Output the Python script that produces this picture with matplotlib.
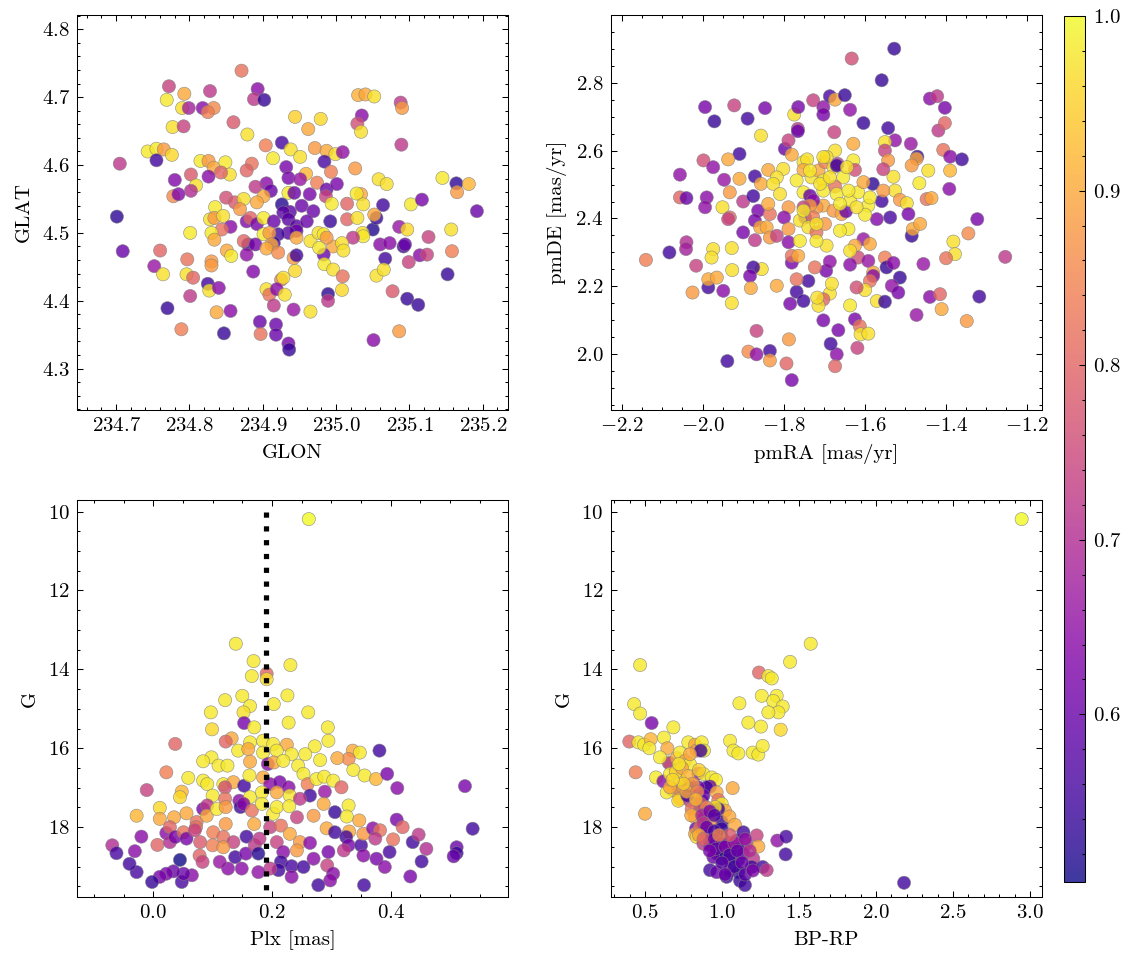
import matplotlib
matplotlib.use("Agg")
import matplotlib.pyplot as plt
from matplotlib.colors import Normalize
from matplotlib.ticker import MultipleLocator

# sky positions (top left)
glon = [234.871, 234.772, 234.793, 234.769, 234.828, 234.893, 234.888, 234.902, 234.790, 234.799,
        234.818, 234.833, 234.825, 234.777, 234.792, 234.860, 234.879, 234.944, 234.979, 234.962,
        235.030, 235.040, 235.052, 235.088, 235.090, 235.035, 235.029, 235.034, 235.089, 234.705,
        234.743, 234.755, 234.765, 234.776, 234.755, 234.815, 234.826, 234.833, 234.849, 234.855,
        234.843, 234.826, 234.802, 234.780, 234.809, 234.802, 234.778, 234.785, 234.885, 234.878,
        234.904, 234.926, 234.914, 234.938, 234.951, 234.932, 234.971, 234.987, 234.999, 235.009,
        234.984, 234.993, 235.026, 234.959, 234.935, 234.951, 234.974, 234.905, 234.890, 234.911,
        234.935, 234.943, 234.964, 234.987, 235.001, 234.986, 235.058, 235.069, 235.034, 235.028,
        234.850, 234.862, 234.874, 234.901, 234.892, 234.835, 234.869, 234.926, 234.937, 234.953,
        234.969, 234.928, 234.994, 235.015, 235.037, 235.064, 235.102, 235.117, 235.145, 235.164,
        235.181, 235.165, 235.192, 234.701, 234.709, 234.828, 234.834, 234.846, 234.856, 234.844,
        234.830, 234.834, 234.801, 234.878, 234.883, 234.892, 234.901, 234.915, 234.935, 234.946,
        234.960, 234.946, 234.935, 234.921, 234.915, 234.901, 234.909, 234.912, 234.946, 234.965,
        234.976, 234.983, 234.992, 235.015, 235.029, 235.050, 235.055, 235.052, 235.036, 235.037,
        235.023, 234.996, 235.008, 235.010, 234.987, 235.086, 235.097, 235.126, 235.157, 235.060,
        235.073, 235.092, 235.094, 235.114, 235.124, 235.099, 235.067, 235.158, 235.152, 234.880,
        234.878, 234.874, 234.890, 234.905, 234.921, 234.942, 234.946, 234.983, 234.984, 234.996,
        234.977, 234.851, 234.857, 234.760, 234.797, 234.830, 234.830, 234.752, 234.764, 234.796,
        234.805, 234.887, 234.944, 234.925, 234.928, 235.009, 235.055, 235.065, 234.825, 234.827,
        234.840, 234.801, 234.905, 234.909, 234.919, 234.930, 234.989, 234.989, 235.008, 235.077,
        235.097, 235.112, 234.770, 234.837, 234.856, 234.915, 234.942, 234.965, 234.789, 234.847,
        234.896, 234.918, 234.918, 234.897, 234.935, 234.936, 235.051, 235.086]
glat = [4.739, 4.716, 4.705, 4.696, 4.709, 4.712, 4.697, 4.696, 4.684, 4.684,
        4.684, 4.684, 4.678, 4.656, 4.657, 4.663, 4.645, 4.671, 4.668, 4.653,
        4.703, 4.704, 4.701, 4.692, 4.684, 4.673, 4.661, 4.649, 4.630, 4.602,
        4.620, 4.624, 4.623, 4.615, 4.607, 4.606, 4.606, 4.596, 4.604, 4.586,
        4.589, 4.583, 4.586, 4.578, 4.570, 4.562, 4.554, 4.557, 4.602, 4.592,
        4.629, 4.633, 4.610, 4.623, 4.612, 4.597, 4.625, 4.621, 4.616, 4.619,
        4.605, 4.590, 4.595, 4.587, 4.581, 4.579, 4.574, 4.573, 4.568, 4.562,
        4.559, 4.559, 4.557, 4.564, 4.572, 4.554, 4.579, 4.572, 4.557, 4.558,
        4.552, 4.545, 4.550, 4.554, 4.545, 4.538, 4.535, 4.542, 4.531, 4.540,
        4.532, 4.530, 4.543, 4.543, 4.542, 4.541, 4.542, 4.549, 4.581, 4.573,
        4.572, 4.560, 4.532, 4.524, 4.473, 4.520, 4.522, 4.525, 4.509, 4.505,
        4.500, 4.490, 4.500, 4.517, 4.522, 4.513, 4.522, 4.517, 4.520, 4.510,
        4.517, 4.503, 4.500, 4.498, 4.485, 4.498, 4.500, 4.483, 4.493, 4.488,
        4.500, 4.498, 4.517, 4.520, 4.522, 4.505, 4.522, 4.527, 4.500, 4.495,
        4.493, 4.480, 4.485, 4.474, 4.493, 4.509, 4.505, 4.494, 4.505, 4.483,
        4.485, 4.480, 4.483, 4.467, 4.468, 4.457, 4.462, 4.473, 4.439, 4.483,
        4.468, 4.488, 4.483, 4.477, 4.471, 4.463, 4.467, 4.468, 4.454, 4.446,
        4.478, 4.474, 4.466, 4.474, 4.461, 4.458, 4.452, 4.451, 4.439, 4.439,
        4.434, 4.443, 4.444, 4.431, 4.434, 4.436, 4.437, 4.446, 4.425, 4.415,
        4.419, 4.407, 4.417, 4.409, 4.417, 4.409, 4.410, 4.400, 4.416, 4.414,
        4.403, 4.394, 4.389, 4.383, 4.385, 4.393, 4.387, 4.384, 4.358, 4.352,
        4.369, 4.365, 4.350, 4.351, 4.337, 4.328, 4.342, 4.355]
prob_sky = [.82, .74, .90, .98, .72, .64, .72, .54, .97, .68,
            .64, .86, .84, .97, .74, .78, .97, .95, .96, .90,
            .91, .90, .97, .72, .88, .64, .76, .97, .72, .72,
            .98, .98, .88, .96, .55, .98, .88, .90, .98, .97,
            .80, .64, .78, .63, .97, .70, .86, .63, .82, .80,
            .84, .56, .98, .97, .97, .62, .88, .90, .97, .65,
            .56, .84, .88, .92, .62, .66, .84, .64, .72, .60,
            .98, .60, .62, .60, .62, .74, .97, .97, .90, .98,
            .76, .78, .97, .90, .90, .98, .88, .52, .58, .60,
            .60, .58, .98, .80, .97, .55, .98, .62, .98, .53,
            .92, .88, .60, .53, .60, .97, .88, .97, .64, .82,
            .98, .90, .98, .63, .80, .62, .98, .60, .58, .58,
            .60, .60, .58, .55, .55, .98, .88, .90, .90, .97,
            .97, .98, .54, .80, .97, .52, .54, .90, .97, .98,
            .72, .90, .97, .97, .88, .66, .96, .74, .97, .64,
            .64, .55, .60, .64, .74, .74, .55, .84, .54, .54,
            .65, .80, .62, .90, .86, .88, .55, .60, .98, .97,
            .98, .90, .98, .80, .82, .88, .88, .66, .97, .97,
            .80, .63, .96, .84, .97, .82, .97, .97, .55, .97,
            .64, .72, .97, .82, .64, .97, .53, .72, .96, .78,
            .54, .54, .54, .90, .64, .72, .66, .97, .84, .54,
            .60, .60, .60, .82, .62, .54, .64, .88]

# proper motions (top right)
pmra = [-1.527, -1.632, -1.558, -1.994, -1.971, -1.922, -1.889, -1.846, -1.856, -1.774,
        -1.764, -1.765, -1.765, -1.727, -1.702, -1.702, -1.686, -1.673, -1.649, -1.636,
        -1.603, -1.675, -1.542, -1.525, -1.550, -1.439, -1.421, -1.402, -1.418, -1.402,
        -1.486, -1.470, -1.406, -1.389, -1.360, -1.472, -1.484, -1.443, -1.389, -1.391,
        -1.465, -1.550, -1.542, -1.529, -1.554, -1.525, -1.580, -1.558, -1.554, -1.513,
        -1.496, -1.447, -1.435, -1.492, -1.537, -1.570, -1.484, -1.481, -1.463, -1.322,
        -1.344, -1.381, -1.377, -1.253, -1.399, -1.455, -2.140, -2.082, -2.040, -2.041,
        -2.016, -2.056, -1.998, -1.974, -1.909, -1.947, -1.937, -1.909, -1.933, -1.951,
        -2.056, -2.040, -1.990, -1.994, -1.900, -1.871, -1.856, -1.838, -1.875, -1.863,
        -1.933, -1.937, -1.900, -1.871, -1.871, -1.858, -1.842, -1.834, -1.817, -1.834,
        -1.838, -1.797, -1.788, -1.780, -1.801, -1.817, -1.826, -1.809, -1.788, -1.799,
        -1.788, -1.788, -1.751, -1.742, -1.751, -1.768, -1.751, -1.735, -1.731, -1.714,
        -1.698, -1.702, -1.702, -1.702, -1.719, -1.727, -1.735, -1.747, -1.727, -1.751,
        -1.760, -1.739, -1.719, -1.698, -1.677, -1.667, -1.669, -1.673, -1.653, -1.673,
        -1.669, -1.677, -1.657, -1.646, -1.636, -1.628, -1.624, -1.628, -1.616, -1.603,
        -1.591, -1.599, -1.640, -1.661, -1.694, -1.760, -1.719, -1.603, -1.587, -1.624,
        -1.616, -1.591, -1.550, -1.546, -1.529, -1.513, -1.533, -1.517, -1.579, -1.579,
        -1.587, -1.599, -1.620, -1.570, -1.550, -1.472, -1.439, -1.414, -1.410, -1.348,
        -1.317, -1.636, -1.636, -1.624, -1.612, -1.610, -1.591, -1.618, -1.669, -1.684,
        -1.665, -1.702, -1.673, -1.636, -1.686, -1.681, -1.702, -1.714, -1.717, -1.695,
        -1.723, -1.686, -1.739, -1.768, -1.751, -1.784, -1.768, -1.780, -1.780, -1.764,
        -1.854, -1.875, -1.883, -1.927, -1.881, -1.928, -1.949, -1.986, -1.986, -1.965,
        -2.025, -1.974, -1.978, -1.928, -1.817, -1.867, -1.939, -1.887, -1.867, -1.834,
        -1.834, -1.793, -1.787, -1.780, -1.735, -1.710, -1.686, -1.694, -1.751, -1.719,
        -1.644, -1.620, -1.587, -1.640, -1.661, -1.702]
pmde = [2.900, 2.871, 2.807, 2.728, 2.686, 2.733, 2.694, 2.725, 2.644, 2.706,
        2.728, 2.664, 2.657, 2.748, 2.728, 2.706, 2.760, 2.750, 2.763, 2.720,
        2.681, 2.654, 2.666, 2.630, 2.625, 2.753, 2.760, 2.726, 2.659, 2.681,
        2.620, 2.582, 2.602, 2.582, 2.574, 2.576, 2.556, 2.541, 2.541, 2.487,
        2.504, 2.600, 2.571, 2.523, 2.545, 2.482, 2.502, 2.451, 2.482, 2.455,
        2.445, 2.457, 2.460, 2.413, 2.403, 2.398, 2.349, 2.369, 2.384, 2.398,
        2.356, 2.332, 2.295, 2.287, 2.283, 2.266, 2.278, 2.300, 2.330, 2.310,
        2.261, 2.529, 2.571, 2.551, 2.590, 2.514, 2.574, 2.517, 2.477, 2.433,
        2.462, 2.460, 2.462, 2.433, 2.450, 2.524, 2.502, 2.543, 2.466, 2.423,
        2.403, 2.398, 2.359, 2.394, 2.336, 2.374, 2.374, 2.344, 2.349, 2.413,
        2.443, 2.605, 2.630, 2.588, 2.546, 2.521, 2.502, 2.472, 2.433, 2.403,
        2.369, 2.330, 2.566, 2.574, 2.543, 2.512, 2.477, 2.467, 2.521, 2.541,
        2.566, 2.512, 2.482, 2.438, 2.433, 2.453, 2.438, 2.403, 2.403, 2.433,
        2.394, 2.374, 2.359, 2.384, 2.551, 2.561, 2.556, 2.600, 2.521, 2.494,
        2.472, 2.423, 2.413, 2.421, 2.453, 2.571, 2.543, 2.620, 2.477, 2.507,
        2.438, 2.411, 2.369, 2.364, 2.320, 2.334, 2.334, 2.339, 2.325, 2.320,
        2.285, 2.275, 2.285, 2.256, 2.269, 2.226, 2.202, 2.182, 2.241, 2.231,
        2.216, 2.189, 2.197, 2.157, 2.155, 2.116, 2.169, 2.177, 2.133, 2.098,
        2.170, 2.264, 2.305, 2.103, 2.083, 2.059, 2.061, 2.019, 2.000, 2.031,
        2.071, 2.100, 1.965, 2.144, 2.179, 2.208, 2.162, 2.143, 2.167, 2.246,
        2.256, 2.273, 2.216, 2.184, 2.157, 2.149, 2.221, 2.270, 2.290, 2.290,
        2.251, 2.256, 2.231, 2.248, 2.195, 2.151, 2.187, 2.197, 2.221, 2.226,
        2.182, 2.310, 2.285, 2.313, 2.202, 2.069, 1.980, 2.008, 2.000, 2.010,
        1.982, 1.973, 2.044, 1.924, 2.541, 2.502, 2.521, 2.581, 2.423, 2.384,
        2.551, 2.433, 2.462, 2.482, 2.443, 2.581]
prob_pm = [.54, .76, .54, .62, .54, .74, .55, .62, .97, .97,
           .62, .72, .60, .74, .65, .62, .56, .90, .54, .65,
           .54, .74, .55, .65, .97, .64, .72, .62, .72, .80,
           .66, .54, .82, .64, .55, .90, .88, .97, .92, .64,
           .98, .74, .88, .97, .74, .97, .53, .55, .88, .88,
           .97, .82, .90, .62, .56, .63, .54, .90, .90, .62,
           .86, .97, .97, .72, .82, .66, .84, .55, .70, .68,
           .74, .65, .76, .65, .55, .66, .90, .90, .88, .97,
           .80, .60, .64, .65, .72, .55, .90, .90, .55, .62,
           .80, .74, .62, .62, .72, .90, .90, .88, .74, .82,
           .90, .60, .74, .90, .97, .97, .97, .97, .88, .64,
           .88, .64, .97, .97, .90, .98, .98, .60, .97, .90,
           .84, .98, .98, .90, .88, .64, .88, .60, .84, .74,
           .97, .97, .82, .88, .97, .72, .55, .97, .98, .82,
           .98, .88, .90, .60, .98, .98, .76, .90, .98, .90,
           .98, .98, .98, .98, .97, .98, .98, .66, .90, .90,
           .76, .66, .84, .54, .64, .54, .65, .62, .90, .64,
           .82, .97, .76, .97, .54, .66, .64, .80, .90, .88,
           .55, .64, .97, .62, .82, .97, .97, .74, .64, .55,
           .62, .62, .80, .98, .97, .97, .80, .97, .97, .62,
           .82, .65, .55, .55, .55, .62, .82, .62, .82, .90,
           .97, .55, .62, .97, .90, .97, .64, .55, .90, .90,
           .88, .97, .97, .97, .90, .74, .55, .86, .65, .55,
           .88, .80, .88, .62, .98, .97, .97, .97, .98, .97,
           .97, .97, .98, .98, .98, .97]

# parallax vs magnitude (bottom left)
plx = [0.262, 0.139, 0.169, 0.166, 0.191, 0.231, 0.191, 0.121, 0.150, 0.163,
       0.152, 0.203, 0.226, 0.097, 0.261, 0.228, 0.153, 0.170, 0.099, 0.294,
       0.295, 0.132, 0.122, 0.037, 0.163, 0.185, 0.202, 0.225, 0.272, 0.143,
       0.160, 0.185, 0.208, 0.233, 0.256, 0.336, 0.348, 0.381, 0.329, 0.310,
       0.281, 0.098, 0.084, 0.110, 0.125, 0.163, 0.193, 0.203, 0.219, 0.244,
       0.022, 0.059, 0.084, 0.091, 0.118, 0.135, 0.153, 0.162, 0.185, 0.197,
       0.213, 0.228, 0.253, 0.260, 0.275, 0.288, 0.303, 0.337, 0.356, 0.375,
       0.394, 0.411, 0.525, -0.011, 0.048, 0.045, 0.100, 0.121, 0.145, 0.121,
       0.163, 0.183, 0.208, 0.230, 0.264, 0.247, 0.289, 0.317, 0.011, -0.028,
       0.011, 0.035, 0.056, 0.073, 0.084, 0.091, 0.090, 0.107, 0.122, 0.147,
       0.152, 0.166, 0.183, 0.202, 0.208, 0.229, 0.242, 0.270, 0.287, 0.306,
       0.329, 0.326, 0.347, 0.410, 0.538, -0.020, -0.069, -0.062, -0.031, 0.007,
       0.022, 0.028, 0.028, 0.037, 0.051, 0.056, 0.072, 0.070, 0.079, 0.078,
       0.083, 0.101, 0.100, 0.118, 0.122, 0.135, 0.138, 0.118, 0.157, 0.156,
       0.170, 0.171, 0.177, 0.179, 0.197, 0.215, 0.208, 0.219, 0.215, 0.230,
       0.247, 0.242, 0.264, 0.270, 0.292, 0.306, 0.330, 0.325, 0.329, 0.321,
       0.350, 0.354, 0.370, 0.382, 0.374, 0.354, 0.376, 0.398, 0.404, 0.420,
       0.437, 0.447, 0.460, 0.452, 0.511, 0.511, 0.506, 0.295, 0.293, 0.303,
       0.298, 0.278, 0.233, 0.253, 0.233, 0.211, 0.197, 0.177, 0.149, 0.126,
       0.112, 0.065, 0.048, 0.051, 0.045, 0.034, 0.022, 0.011, -0.002, -0.028,
       -0.040, 0.355, 0.390, 0.433]
gmag_plx = [10.19, 13.35, 13.79, 14.17, 14.11, 13.89, 14.25, 14.78, 14.67, 14.93,
            15.09, 14.88, 14.66, 15.09, 15.09, 15.35, 15.36, 15.47, 15.52, 15.47,
            15.81, 15.75, 15.83, 15.89, 15.85, 15.81, 15.89, 15.91, 15.95, 16.06,
            16.02, 16.11, 16.06, 16.15, 16.15, 16.06, 16.11, 16.06, 16.27, 16.25,
            16.30, 16.23, 16.33, 16.44, 16.44, 16.34, 16.40, 16.36, 16.32, 16.44,
            16.61, 16.75, 16.82, 16.91, 16.91, 16.86, 16.95, 16.69, 16.74, 16.91,
            16.86, 16.99, 16.65, 16.91, 16.78, 16.72, 16.82, 16.55, 16.69, 16.78,
            16.65, 17.01, 16.96, 17.06, 17.10, 17.24, 17.20, 16.99, 17.33, 17.28,
            17.24, 17.12, 17.12, 17.20, 17.20, 17.28, 17.10, 16.99, 17.51, 17.71,
            17.79, 17.75, 17.65, 17.87, 17.54, 17.45, 17.71, 17.54, 17.49, 17.49,
            17.41, 17.58, 17.41, 17.66, 17.49, 17.47, 17.75, 17.71, 17.41, 17.62,
            17.45, 17.73, 17.83, 17.81, 18.04, 18.24, 18.46, 18.66, 18.61, 18.45,
            18.15, 18.00, 18.38, 18.25, 18.13, 18.29, 18.00, 18.08, 18.38, 18.72,
            18.88, 18.13, 18.46, 18.25, 17.92, 18.38, 18.76, 18.51, 18.24, 18.67,
            17.92, 18.46, 18.67, 18.29, 18.00, 17.96, 18.38, 18.63, 18.88, 18.17,
            18.38, 18.59, 18.40, 18.80, 18.03, 18.13, 18.11, 18.25, 18.46, 18.59,
            18.46, 18.17, 18.03, 18.08, 18.29, 18.72, 18.80, 18.63, 18.31, 18.00,
            18.38, 18.19, 18.55, 18.87, 18.51, 18.66, 18.74, 18.63, 18.97, 19.18,
            19.35, 19.47, 18.99, 19.01, 19.26, 19.09, 19.05, 19.14, 19.05, 19.05,
            18.88, 19.22, 19.39, 19.18, 18.83, 19.12, 19.18, 19.26, 19.39, 19.14,
            18.93, 19.47, 19.01, 19.25]
prob_plx = [1.0, .98, .98, .98, .80, .98, .97, .98, .98, .98,
            .97, .98, .98, .98, .98, .98, .62, .98, .96, .98,
            .98, .90, .80, .80, .98, .98, .98, .90, .98, .98,
            .90, .98, .98, .98, .98, .90, .98, .55, .86, .90,
            .98, .98, .98, .98, .98, .90, .64, .90, .98, .98,
            .84, .98, .98, .98, .98, .90, .55, .98, .90, .64,
            .62, .64, .98, .84, .98, .98, .98, .98, .98, .92,
            .62, .64, .62, .74, .92, .96, .98, .76, .64, .82,
            .98, .98, .90, .98, .55, .72, .66, .80, .96, .92,
            .90, .90, .90, .82, .62, .72, .90, .98, .88, .55,
            .64, .82, .98, .98, .98, .98, .74, .88, .90, .54,
            .98, .98, .90, .62, .55, .64, .70, .56, .64, .80,
            .64, .80, .70, .62, .82, .62, .82, .74, .78, .80,
            .74, .84, .84, .82, .88, .74, .55, .88, .55, .62,
            .90, .72, .52, .72, .74, .82, .74, .64, .55, .90,
            .88, .88, .64, .64, .90, .55, .90, .55, .62, .72,
            .56, .88, .64, .82, .72, .64, .62, .56, .82, .80,
            .55, .72, .70, .55, .60, .55, .60, .62, .74, .64,
            .64, .55, .56, .55, .64, .55, .72, .65, .64, .64,
            .66, .64, .56, .60, .504, .60, .62, .62, .54, .56,
            .55, .55, .64, .62]
plx_cut = 0.19
gline = [10.0, 20.0]

# colour-magnitude diagram (bottom right)
bprp = [2.946, 1.576, 1.442, 0.468, 1.240, 1.301, 1.323, 1.258, 1.355, 1.333,
        1.394, 1.366, 1.301, 1.113, 1.253, 1.381, 1.171, 1.052, 1.074, 1.106,
        1.199, 1.236, 1.264, 0.429, 0.468, 0.543, 0.398, 0.457, 0.494, 0.537,
        0.528, 0.623, 0.684, 0.439, 0.571, 0.619, 0.500, 0.645, 0.652, 0.658,
        0.706, 0.727, 0.781, 0.825, 0.835, 0.868, 0.883, 0.861, 0.760, 0.792,
        0.792, 0.846, 0.879, 0.933, 0.961, 0.922, 0.900, 0.846, 1.069, 0.716,
        0.684, 0.641, 0.662, 0.803, 0.749, 0.727, 0.716, 0.792, 0.868, 0.879,
        0.965, 0.976, 0.998, 1.019, 0.976, 0.944, 0.857, 0.803, 0.825, 0.879,
        0.998, 1.048, 1.084, 0.922, 0.998, 0.998, 0.831, 0.825, 0.835, 0.857,
        0.900, 0.922, 0.879, 0.922, 1.030, 1.095, 1.139, 1.160, 1.225, 1.236,
        1.052, 1.106, 0.965, 0.998, 0.944, 1.041, 1.106, 1.139, 1.203, 1.193,
        1.264, 1.290, 1.106, 1.052, 1.030, 0.922, 0.965, 1.117, 1.149, 1.359,
        1.416, 1.413, 2.182, 0.781, 0.775, 0.955, 0.727, 0.662, 0.597,
        0.70, 0.74, 0.78, 0.81, 0.77, 0.84, 0.86, 0.90, 0.83, 0.80,
        0.87, 0.92, 0.95, 0.88, 0.90, 0.95, 0.85, 0.88, 0.95, 1.00,
        0.96, 0.92, 1.02, 1.05, 1.08, 1.10, 1.00, 1.08, 1.13, 1.15,
        1.18, 1.15, 1.05, 0.98, 1.02, 1.20, 0.75, 0.72, 0.68, 0.85]
gmag_cmd = [10.19, 13.35, 13.81, 13.89, 14.08, 14.17, 14.23, 14.67, 14.67, 14.80,
            14.94, 15.09, 15.09, 14.86, 15.45, 15.53, 15.35, 15.81, 16.06, 16.13,
            16.11, 16.16, 15.94, 14.88, 15.12, 15.36, 15.83, 15.85, 15.91, 15.77,
            16.00, 15.73, 15.47, 16.61, 16.74, 16.84, 17.66, 16.00, 16.36, 16.38,
            16.25, 16.11, 15.85, 15.91, 16.06, 15.85, 16.06, 16.06, 16.32, 16.40,
            16.15, 16.64, 16.65, 16.74, 16.80, 16.97, 16.99, 16.99, 17.01, 17.03,
            17.07, 17.12, 16.99, 16.97, 16.99, 17.28, 17.33, 17.33, 17.33, 17.20,
            17.12, 17.31, 17.41, 17.58, 17.54, 17.58, 17.54, 17.54, 17.75, 17.79,
            17.87, 17.73, 17.94, 17.87, 18.04, 18.25, 18.04, 18.17, 18.25, 18.00,
            18.17, 18.34, 18.42, 18.46, 18.38, 18.34, 18.13, 18.42, 18.21, 18.49,
            18.59, 18.55, 18.67, 18.80, 18.76, 18.80, 18.83, 18.67, 18.80, 19.01,
            19.01, 19.09, 19.14, 19.09, 19.26, 19.09, 19.14, 19.36, 19.47, 18.34,
            18.24, 18.69, 19.41, 16.95, 17.20, 17.49, 16.78, 16.65, 16.23,
            16.6, 16.5, 16.7, 16.9, 17.1, 17.1, 17.4, 17.5, 17.3, 17.7,
            17.7, 17.6, 17.7, 17.9, 18.0, 18.1, 18.2, 18.3, 18.3, 18.4,
            18.55, 18.6, 18.5, 18.7, 18.4, 18.6, 18.9, 19.0, 18.9, 19.2,
            18.6, 18.3, 18.2, 18.2, 19.2, 19.1, 16.9, 16.4, 16.8, 16.55]
prob_cmd = [1.0, .98, .98, .98, .80, .98, .98, .98, .98, .98,
            .98, .98, .98, .98, .98, .96, .98, .98, .98, .98,
            .98, .98, .98, .98, .98, .62, .80, .98, .98, .92,
            .98, .98, .98, .84, .98, .64, .90, .90, .98, .70,
            .90, .98, .98, .90, .88, .98, .98, .55, .90, .98,
            .90, .66, .98, .98, .98, .62, .55, .62, .90, .62,
            .90, .98, .90, .60, .88, .90, .96, .72, .55, .60,
            .90, .82, .98, .90, .55, .55, .55, .82, .90, .64,
            .54, .90, .90, .88, .54, .52, .60, .90, .96, .82,
            .60, .52, .72, .60, .74, .64, .55, .72, .74, .90,
            .72, .52, .60, .504, .60, .60, .54, .62, .72, .55,
            .56, .72, .52, .62, .55, .55, .60, .54, .55, .65,
            .56, .55, .55, .58, .55, .97, .98, .98, .98,
            .95, .90, .92, .88, .90, .85, .78, .85, .92, .90,
            .70, .62, .58, .72, .60, .56, .90, .80, .62, .60,
            .58, .62, .62, .56, .66, .60, .58, .55, .60, .58,
            .70, .65, .78, .85, .60, .62, .95, .98, .96, .95]

plt.rcParams.update({
    "font.family": "serif",
    "font.serif": ["cmr10"],
    "mathtext.fontset": "cm",
    "axes.formatter.use_mathtext": True,
    "font.size": 10,
    "axes.linewidth": 0.5,
    "xtick.direction": "in",
    "ytick.direction": "in",
    "xtick.top": True,
    "ytick.right": True,
    "xtick.minor.visible": True,
    "ytick.minor.visible": True,
    "xtick.major.size": 3,
    "ytick.major.size": 3,
    "xtick.minor.size": 1.5,
    "ytick.minor.size": 1.5,
    "xtick.major.width": 0.5,
    "ytick.major.width": 0.5,
    "xtick.minor.width": 0.5,
    "ytick.minor.width": 0.5,
})

all_prob = prob_sky + prob_pm + prob_plx + prob_cmd
norm = Normalize(vmin=min(all_prob), vmax=max(all_prob))
kw = dict(cmap="plasma", norm=norm, s=40, alpha=0.8, edgecolors="gray", linewidths=0.3)

fig = plt.figure(figsize=(1133 / 150, 965 / 150), dpi=150)
ax1 = fig.add_axes([0.0682, 0.5751, 0.3799, 0.4093])
ax2 = fig.add_axes([0.5390, 0.5751, 0.3804, 0.4093])
ax3 = fig.add_axes([0.0682, 0.0705, 0.3799, 0.4114])
ax4 = fig.add_axes([0.5390, 0.0705, 0.3804, 0.4114])
cax = fig.add_axes([0.9391, 0.0860, 0.0188, 0.8974])

ax1.scatter(glon, glat, c=prob_sky, **kw)
ax1.set_xlim(234.647, 235.234)
ax1.set_ylim(4.239, 4.821)
ax1.xaxis.set_major_locator(MultipleLocator(0.1))
ax1.yaxis.set_major_locator(MultipleLocator(0.1))
ax1.set_xlabel("GLON")
ax1.set_ylabel("GLAT")

sc = ax2.scatter(pmra, pmde, c=prob_pm, **kw)
ax2.set_xlim(-2.227, -1.163)
ax2.set_ylim(1.836, 2.999)
ax2.xaxis.set_major_locator(MultipleLocator(0.2))
ax2.yaxis.set_major_locator(MultipleLocator(0.2))
ax2.set_xlabel("pmRA [mas/yr]")
ax2.set_ylabel("pmDE [mas/yr]")

ax3.scatter(plx, gmag_plx, c=prob_plx, **kw)
ax3.plot([plx_cut, plx_cut], gline, color="k", ls=":", lw=2.5)
ax3.set_xlim(-0.128, 0.597)
ax3.set_ylim(19.77, 9.705)
ax3.xaxis.set_major_locator(MultipleLocator(0.2))
ax3.yaxis.set_major_locator(MultipleLocator(2))
ax3.set_xlabel("Plx [mas]")
ax3.set_ylabel("G")

ax4.scatter(bprp, gmag_cmd, c=prob_cmd, **kw)
ax4.set_xlim(0.277, 3.076)
ax4.set_ylim(19.77, 9.705)
ax4.xaxis.set_major_locator(MultipleLocator(0.5))
ax4.yaxis.set_major_locator(MultipleLocator(2))
ax4.set_xlabel("BP-RP")
ax4.set_ylabel("G")

cb = fig.colorbar(sc, cax=cax)
cb.outline.set_linewidth(0.5)
cb.set_ticks(MultipleLocator(0.1))
cb.minorticks_on()
cax.tick_params(which="both", direction="in", right=True, left=False)

fig.savefig("out.png", dpi=150)
